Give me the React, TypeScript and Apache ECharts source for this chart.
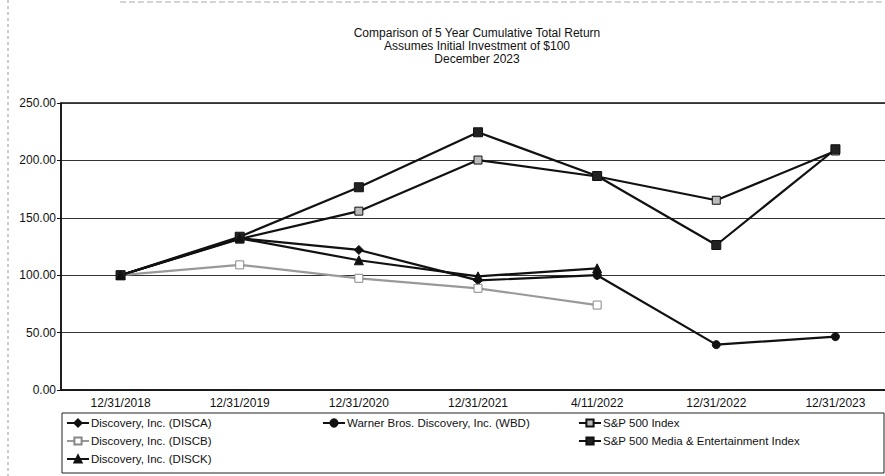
import React, { useEffect, useRef } from "react";
import * as echarts from "echarts";

const categories = ["12/31/2018", "12/31/2019", "12/31/2020", "12/31/2021", "4/11/2022", "12/31/2022", "12/31/2023"];
const disca = [100, 132.3, 122, 95.5, 100, null, null];
const discb = [100, 109, 97.3, 88.6, 74, null, null];
const disck = [100, 132.1, 113, 99, 106, null, null];
const wbd = [null, null, null, null, 100, 39.5, 46.5];
const sp500 = [100, 131.5, 155.8, 200.3, 186, 165.3, 208.2];
const spMedia = [100, 133.5, 176.6, 224.5, 186.4, 126.3, 209.7];
const titleLines = ["Comparison of 5 Year Cumulative Total Return", "Assumes Initial Investment of $100", "December 2023"];

const FONT = "Liberation Sans, Arial, sans-serif";

export default function App() {
  const ref = useRef<HTMLDivElement>(null);
  useEffect(() => {
    if (!ref.current) return;
    const chart = echarts.init(ref.current, null, { renderer: "svg" });
    const mk = (name: string, data: any[], symbol: string, color: string, fill: string, lineColor = "#111", size = 8) => ({
      name,
      type: "line",
      data,
      symbol,
      symbolSize: size,
      connectNulls: false,
      lineStyle: { color: lineColor, width: 2.2 },
      itemStyle: { color: fill, borderColor: color, borderWidth: 1 },
      emphasis: { disabled: true },
    });
    const legendBase = {
      orient: "vertical" as const,
      itemWidth: 22,
      itemHeight: 9,
      itemGap: 6,
      padding: 0,
      textStyle: { fontFamily: FONT, fontSize: 11.5, color: "#111", padding: [0, 0, 0, -3] },
    };
    chart.setOption({
      animation: false,
      backgroundColor: "#fff",
      grid: { left: 61, right: 0, top: 103, bottom: 86, show: true, borderColor: "#111", borderWidth: 1.5 },
      xAxis: {
        type: "category",
        data: categories,
        boundaryGap: true,
        axisLine: { lineStyle: { color: "#111", width: 1.5 } },
        axisTick: { show: false },
        axisLabel: { fontFamily: FONT, fontSize: 12, color: "#111", margin: 7 },
      },
      yAxis: {
        type: "value",
        min: 0,
        max: 250,
        interval: 50,
        axisLine: { show: true, lineStyle: { color: "#111", width: 1.5 } },
        axisTick: { show: true, length: 4, lineStyle: { color: "#111" } },
        axisLabel: { fontFamily: FONT, fontSize: 12, color: "#111", margin: 5, formatter: (v: number) => v.toFixed(2) },
        splitLine: { lineStyle: { color: "#333", width: 1 } },
      },
      legend: [
        { ...legendBase, left: 66, top: 417, data: ["Discovery, Inc. (DISCA)", "Discovery, Inc. (DISCB)", "Discovery, Inc. (DISCK)"] },
        { ...legendBase, left: 322, top: 417, data: ["Warner Bros. Discovery, Inc. (WBD)"] },
        { ...legendBase, left: 578, top: 417, data: ["S&P 500 Index", "S&P 500 Media & Entertainment Index"] },
      ],
      graphic: [
        ...titleLines.map((t, i) => ({
          type: "text",
          x: 477,
          y: 33 + i * 13,
          style: { text: t, fontFamily: FONT, fontSize: 12, fill: "#111", align: "center", verticalAlign: "middle" },
        })),
        { type: "rect", shape: { x: 62, y: 413, width: 822, height: 60 }, style: { fill: "none", stroke: "#222", lineWidth: 1 } },
        { type: "line", shape: { x1: 8, y1: 0, x2: 8, y2: 476 }, style: { stroke: "#999", lineWidth: 1, lineDash: [3, 3] } },
        { type: "line", shape: { x1: 120, y1: 2, x2: 885, y2: 2 }, style: { stroke: "#aaa", lineWidth: 1, lineDash: [6, 3] } },
      ],
      series: [
        mk("Discovery, Inc. (DISCA)", disca, "diamond", "#111", "#111", "#111", 9),
        mk("Warner Bros. Discovery, Inc. (WBD)", wbd, "circle", "#111", "#111", "#111", 8),
        mk("S&P 500 Index", sp500, "rect", "#111", "#bbb", "#111", 8),
        mk("Discovery, Inc. (DISCB)", discb, "rect", "#888", "#fff", "#999", 8),
        mk("S&P 500 Media & Entertainment Index", spMedia, "rect", "#111", "#222", "#111", 9),
        mk("Discovery, Inc. (DISCK)", disck, "triangle", "#111", "#111", "#111", 9),
      ],
    });
    return () => chart.dispose();
  }, []);
  return (
    <div style={{ position: "fixed", left: 0, top: 0, width: 885, height: 476, overflow: "hidden" }}>
      <div ref={ref} style={{ width: 895, height: 476 }} />
    </div>
  );
}
